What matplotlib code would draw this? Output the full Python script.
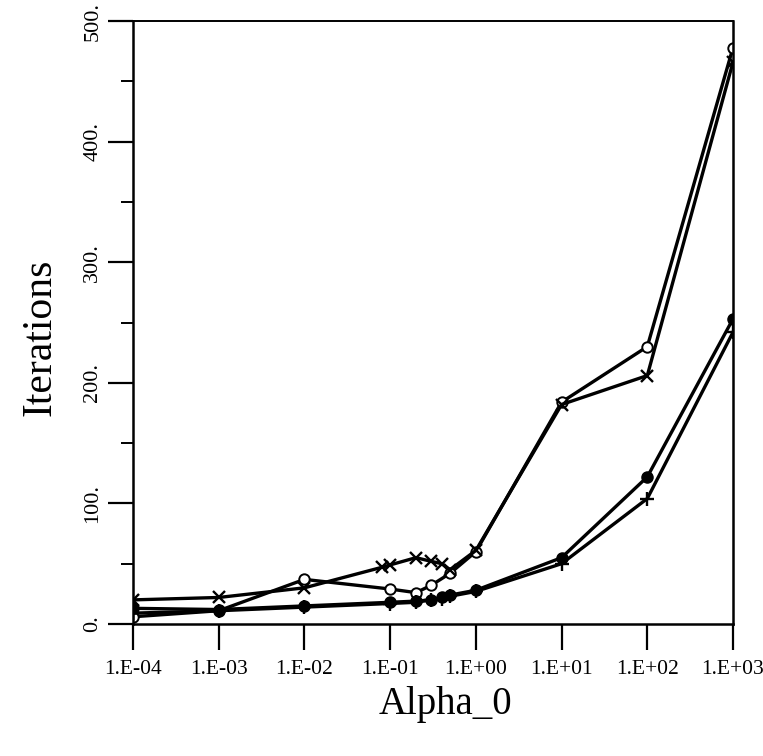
"""Iterations vs. Alpha_0 for four runs (log x axis)."""

import matplotlib
matplotlib.use("Agg")
import matplotlib.pyplot as plt
from matplotlib.ticker import FixedLocator, FixedFormatter

plt.rcParams["font.family"] = ["Liberation Serif", "DejaVu Serif"]

# Values.
x_circ = [1e-4, 1e-3, 1e-2, 1e-1, 2e-1, 3e-1, 5e-1, 1e0, 1e1, 1e2, 1e3]
y_circ = [6, 11, 37, 29, 26, 32, 42, 60, 184, 230, 478]

x_cross = [1e-4, 1e-3, 1e-2, 8e-2, 1e-1, 2e-1, 3e-1, 4e-1, 5e-1, 1e0, 1e1, 1e2, 1e3]
y_cross = [20, 22, 30, 47, 49, 55, 52, 50, 45, 61, 182, 206, 466]

x_fill = [1e-4, 1e-3, 1e-2, 1e-1, 2e-1, 3e-1, 4e-1, 5e-1, 1e0, 1e1, 1e2, 1e3]
y_fill = [13, 12, 15, 18, 19, 20, 22, 24, 28, 55, 122, 253]

x_plus = [1e-4, 1e-3, 1e-2, 1e-1, 2e-1, 3e-1, 4e-1, 5e-1, 1e0, 1e1, 1e2, 1e3]
y_plus = [9, 11, 14, 17, 18, 20, 21, 23, 27, 50, 104, 242]

x_ticks = [1e-4, 1e-3, 1e-2, 1e-1, 1e0, 1e1, 1e2, 1e3]
x_tick_labels = ["1.E-04", "1.E-03", "1.E-02", "1.E-01",
                 "1.E+00", "1.E+01", "1.E+02", "1.E+03"]
y_ticks = [0, 100, 200, 300, 400, 500]
y_tick_labels = ["0.", "100.", "200.", "300.", "400.", "500."]
y_minor = [50, 150, 250, 350, 450]

fig = plt.figure(figsize=(7.63, 7.56), dpi=100)
ax = fig.add_axes([0.1743, 0.1746, 0.7864, 0.7976])

lw = 2.4
ax.plot(x_circ, y_circ, color="black", lw=lw, marker="o", ms=7.5,
        mfc="white", mec="black", mew=1.4)
ax.plot(x_cross, y_cross, color="black", lw=lw, marker="x", ms=8, mew=1.7)
ax.plot(x_fill, y_fill, color="black", lw=lw, marker="o", ms=8,
        mfc="black", mec="black")
ax.plot(x_plus, y_plus, color="black", lw=lw, marker="+", ms=10, mew=1.7)

ax.set_xscale("log")
ax.set_xlim(1e-4, 1e3)
ax.set_ylim(0, 500)

ax.xaxis.set_major_locator(FixedLocator(x_ticks))
ax.xaxis.set_major_formatter(FixedFormatter(x_tick_labels))
ax.xaxis.set_minor_locator(FixedLocator([]))
ax.yaxis.set_major_locator(FixedLocator(y_ticks))
ax.yaxis.set_major_formatter(FixedFormatter(y_tick_labels))
ax.yaxis.set_minor_locator(FixedLocator(y_minor))

ax.tick_params(axis="x", which="major", direction="out", length=19,
               width=1.6, labelsize=15.5, pad=7)
ax.tick_params(axis="y", which="major", direction="out", length=18,
               width=1.6, labelsize=16, pad=4)
ax.tick_params(axis="y", which="minor", direction="out", length=9, width=1.4)
for lab in ax.get_yticklabels():
    lab.set_rotation(90)
    lab.set_va("center")

for side in ["left", "bottom", "right"]:
    ax.spines[side].set_linewidth(1.8)
ax.spines["top"].set_linewidth(1.4)

ax.set_xlabel("Alpha_0", fontsize=28, va="center")
ax.xaxis.set_label_coords(0.52, -0.134)
ax.set_ylabel("Iterations", fontsize=30, va="center")
ax.yaxis.set_label_coords(-0.155, 0.476)

fig.savefig("out.png", dpi=100)
